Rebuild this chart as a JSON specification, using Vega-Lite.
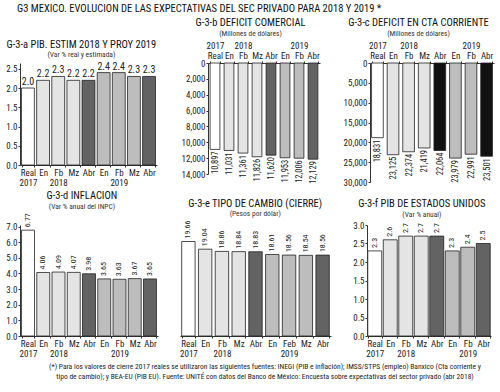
{
 "$schema": "https://vega.github.io/schema/vega-lite/v6.json",
 "padding": {"left": 5, "right": 2, "top": 3, "bottom": 2},
 "title": {"text": "G3  MEXICO. EVOLUCION DE LAS EXPECTATIVAS DEL SEC PRIVADO PARA 2018 Y 2019 *", "anchor": "start", "frame": "group", "fontSize": 10.5, "offset": 4, "dx": -3},
 "config": {
  "font": "Roboto Condensed",
  "view": {"stroke": null},
  "axis": {"labelFont": "Roboto Condensed", "labelFontSize": 9, "labelColor": "#222", "domainColor": "#333", "tickColor": "#333", "grid": false, "title": null, "tickSize": 2, "labelPadding": 1, "labelLineHeight": 10},
  "title": {"font": "Roboto Condensed", "fontSize": 10.5, "fontWeight": "normal", "color": "#111", "subtitleFont": "Roboto Condensed", "subtitleFontSize": 7.5, "subtitleColor": "#333", "anchor": "middle", "frame": "bounds", "offset": 3, "subtitlePadding": 1},
  "bar": {"stroke": "#222", "strokeWidth": 0.8},
  "text": {"font": "Roboto Condensed", "color": "#222"}
 },
 "spacing": 4,
 "vconcat": [
  {"spacing": 23, "hconcat": [
   {
    "width": 137, "height": 102,
    "title": {"text": "G-3-a  PIB. ESTIM 2018 Y PROY 2019", "subtitle": "(Var % real y estimada)"},
    "data": {"values": [
     {"k": "Real 2017", "g": "real", "v": 2.0},
     {"k": "En 2018", "g": "m18", "v": 2.2},
     {"k": "Fb 2018", "g": "m18", "v": 2.3},
     {"k": "Mz 2018", "g": "m18", "v": 2.2},
     {"k": "Abr 2018", "g": "abr", "v": 2.2},
     {"k": "En 2019", "g": "m19", "v": 2.4},
     {"k": "Fb 2019", "g": "m19", "v": 2.4},
     {"k": "Mz 2019", "g": "m19", "v": 2.3},
     {"k": "Abr 2019", "g": "abr", "v": 2.3}
    ]},
    "encoding": {
     "x": {"field": "k", "type": "nominal", "sort": null, "scale": {"paddingInner": 0.15, "paddingOuter": 0.1}, "axis": {"labelAngle": 0, "tickBand": "extent", "labelExpr": "datum.value ? (indexof(['Real','Fb','Feb'], split(datum.value,' ')[0]) >= 0 ? [split(datum.value,' ')[0], split(datum.value,' ')[1]] : split(datum.value,' ')[0]) : ''"}},
     "y": {"field": "v", "type": "quantitative", "scale": {"domain": [0, 2.65]}, "axis": {"values": [0, 0.5, 1, 1.5, 2, 2.5], "format": ".1f"}}
    },
    "layer": [
     {"mark": {"type": "bar"}, "encoding": {
      "fill": {"field": "g", "type": "nominal", "legend": null, "scale": {"domain": ["real", "m18", "m19", "abr", "abrN"], "range": ["#ffffff", "#e4e4e4", "#bdbdbd", "#636363", "#111111"]}}}},
     {"mark": {"type": "text", "baseline": "bottom", "dy": -1, "fontSize": 10}, "encoding": {
      "text": {"field": "v", "type": "quantitative", "format": ".1f"}}}
    ]
   },
   {
    "width": 112, "height": 111,
    "title": {"text": "G-3-b  DEFICIT COMERCIAL", "subtitle": "(Millones de dólares)", "offset": 13},
    "data": {"values": [
     {"k": "Real 2017", "g": "real", "v": 10897},
     {"k": "En 2018", "g": "m18", "v": 11031},
     {"k": "Fb 2018", "g": "m18", "v": 11361},
     {"k": "Mz 2018", "g": "m18", "v": 11826},
     {"k": "Abr 2018", "g": "abr", "v": 11620},
     {"k": "En 2019", "g": "m19", "v": 11953},
     {"k": "Fb 2019", "g": "m19", "v": 12006},
     {"k": "Abr 2019", "g": "abr", "v": 12129}
    ]},
    "encoding": {
     "x": {"field": "k", "type": "nominal", "sort": null, "scale": {"paddingInner": 0.3, "paddingOuter": 0.15}, "axis": {"orient": "top", "labelAngle": 0, "labelBaseline": "bottom", "labelLineHeight": -10, "tickBand": "extent", "labelExpr": "datum.value ? (indexof(['Real','Fb','Feb'], split(datum.value,' ')[0]) >= 0 ? [split(datum.value,' ')[0], split(datum.value,' ')[1]] : split(datum.value,' ')[0]) : ''"}},
     "y": {"field": "v", "type": "quantitative", "scale": {"domain": [0, 14000], "reverse": true}, "axis": {"values": [0, 2000, 4000, 6000, 8000, 10000, 12000, 14000], "format": ",.0f"}}
    },
    "layer": [
     {"mark": {"type": "bar"}, "encoding": {
      "fill": {"field": "g", "type": "nominal", "legend": null, "scale": {"domain": ["real", "m18", "m19", "abr", "abrN"], "range": ["#ffffff", "#e4e4e4", "#bdbdbd", "#636363", "#111111"]}}}},
     {"mark": {"type": "text", "angle": 270, "align": "right", "baseline": "middle", "dx": -2, "fontSize": 8.5}, "encoding": {
      "text": {"field": "v", "type": "quantitative", "format": ","}}}
    ]
   },
   {
    "width": 124, "height": 119,
    "title": {"text": "G-3-c  DEFICIT EN CTA CORRIENTE", "subtitle": "(Millones de dólares)", "offset": 13},
    "data": {"values": [
     {"k": "Real 2017", "g": "real", "v": 18831},
     {"k": "En 2018", "g": "m18", "v": 23125},
     {"k": "Fb 2018", "g": "m18", "v": 22374},
     {"k": "Mz 2018", "g": "m18", "v": 21419},
     {"k": "Abr 2018", "g": "abrN", "v": 22064},
     {"k": "En 2019", "g": "m19", "v": 23979},
     {"k": "Fb 2019", "g": "m19", "v": 22991},
     {"k": "Abr 2019", "g": "abrN", "v": 23501}
    ]},
    "encoding": {
     "x": {"field": "k", "type": "nominal", "sort": null, "scale": {"paddingInner": 0.25, "paddingOuter": 0.1}, "axis": {"orient": "top", "labelAngle": 0, "labelBaseline": "bottom", "labelLineHeight": -10, "tickBand": "extent", "labelExpr": "datum.value ? (indexof(['Real','Fb','Feb'], split(datum.value,' ')[0]) >= 0 ? [split(datum.value,' ')[0], split(datum.value,' ')[1]] : split(datum.value,' ')[0]) : ''"}},
     "y": {"field": "v", "type": "quantitative", "scale": {"domain": [0, 30000], "reverse": true}, "axis": {"values": [0, 5000, 10000, 15000, 20000, 25000, 30000], "format": ",.0f"}}
    },
    "layer": [
     {"mark": {"type": "bar"}, "encoding": {
      "fill": {"field": "g", "type": "nominal", "legend": null, "scale": {"domain": ["real", "m18", "m19", "abr", "abrN"], "range": ["#ffffff", "#e4e4e4", "#bdbdbd", "#636363", "#111111"]}}}},
     {"mark": {"type": "text", "angle": 270, "align": "right", "baseline": "middle", "dx": -2, "fontSize": 8.5}, "encoding": {
      "text": {"field": "v", "type": "quantitative", "format": ","}}}
    ]
   }
  ]},
  {"spacing": 21, "hconcat": [
   {
    "width": 138, "height": 111,
    "title": {"text": "G-3-d  INFLACION", "subtitle": "(Var % anual del INPC)"},
    "data": {"values": [
     {"k": "Real 2017", "g": "real", "v": 6.77},
     {"k": "En 2018", "g": "m18", "v": 4.06},
     {"k": "Fb 2018", "g": "m18", "v": 4.09},
     {"k": "Mz 2018", "g": "m18", "v": 4.07},
     {"k": "Abr 2018", "g": "abr", "v": 3.98},
     {"k": "En 2019", "g": "m19", "v": 3.65},
     {"k": "Fb 2019", "g": "m19", "v": 3.63},
     {"k": "Mz 2019", "g": "m19", "v": 3.67},
     {"k": "Abr 2019", "g": "abr", "v": 3.65}
    ]},
    "encoding": {
     "x": {"field": "k", "type": "nominal", "sort": null, "scale": {"paddingInner": 0.15, "paddingOuter": 0.1}, "axis": {"labelAngle": 0, "tickBand": "extent", "labelExpr": "datum.value ? (indexof(['Real','Fb','Feb'], split(datum.value,' ')[0]) >= 0 ? [split(datum.value,' ')[0], split(datum.value,' ')[1]] : split(datum.value,' ')[0]) : ''"}},
     "y": {"field": "v", "type": "quantitative", "scale": {"domain": [0, 7.1]}, "axis": {"values": [0, 1, 2, 3, 4, 5, 6, 7], "format": ".1f"}}
    },
    "layer": [
     {"mark": {"type": "bar"}, "encoding": {
      "fill": {"field": "g", "type": "nominal", "legend": null, "scale": {"domain": ["real", "m18", "m19", "abr", "abrN"], "range": ["#ffffff", "#e4e4e4", "#bdbdbd", "#636363", "#111111"]}}}},
     {"mark": {"type": "text", "angle": 270, "align": "left", "baseline": "middle", "dx": 3, "fontSize": 8}, "encoding": {
      "text": {"field": "v", "type": "quantitative", "format": ".2f"}}}
    ]
   },
   {
    "width": 151, "height": 111,
    "title": {"text": "G-3-e  TIPO DE CAMBIO (CIERRE)", "subtitle": "(Pesos por dólar)"},
    "data": {"values": [
     {"k": "Real 2017", "g": "real", "v": 19.66},
     {"k": "En 2018", "g": "m18", "v": 19.04},
     {"k": "Fb 2018", "g": "m18", "v": 18.86},
     {"k": "Mz 2018", "g": "m18", "v": 18.84},
     {"k": "Abr 2018", "g": "abr", "v": 18.83},
     {"k": "En 2019", "g": "m19", "v": 18.61},
     {"k": "Feb 2019", "g": "m19", "v": 18.56},
     {"k": "Mz 2019", "g": "m19", "v": 18.54},
     {"k": "Abr 2019", "g": "abr", "v": 18.56}
    ]},
    "encoding": {
     "x": {"field": "k", "type": "nominal", "sort": null, "scale": {"paddingInner": 0.2, "paddingOuter": 0.1}, "axis": {"labelAngle": 0, "tickBand": "extent", "labelExpr": "datum.value ? (indexof(['Real','Fb','Feb'], split(datum.value,' ')[0]) >= 0 ? [split(datum.value,' ')[0], split(datum.value,' ')[1]] : split(datum.value,' ')[0]) : ''"}},
     "y": {"field": "v", "type": "quantitative", "scale": {"domain": [12, 21]}, "axis": null}
    },
    "layer": [
     {"mark": {"type": "bar"}, "encoding": {
      "y2": {"datum": 12},
      "fill": {"field": "g", "type": "nominal", "legend": null, "scale": {"domain": ["real", "m18", "m19", "abr", "abrN"], "range": ["#ffffff", "#e4e4e4", "#bdbdbd", "#636363", "#111111"]}}}},
     {"mark": {"type": "text", "angle": 270, "align": "left", "baseline": "middle", "dx": 3, "fontSize": 8}, "encoding": {
      "text": {"field": "v", "type": "quantitative", "format": ".2f"}}}
    ]
   },
   {
    "width": 124, "height": 111,
    "title": {"text": "G-3-f  PIB DE ESTADOS UNIDOS", "subtitle": "(Var % anual)"},
    "data": {"values": [
     {"k": "Real 2017", "g": "real", "v": 2.3},
     {"k": "En 2018", "g": "m18", "v": 2.6},
     {"k": "Fb 2018", "g": "m18", "v": 2.7},
     {"k": "Mz 2018", "g": "m18", "v": 2.7},
     {"k": "Abr 2018", "g": "abr", "v": 2.7},
     {"k": "En 2019", "g": "m19", "v": 2.3},
     {"k": "Fb 2019", "g": "m19", "v": 2.4},
     {"k": "Abr 2019", "g": "abr", "v": 2.5}
    ]},
    "encoding": {
     "x": {"field": "k", "type": "nominal", "sort": null, "scale": {"paddingInner": 0.1, "paddingOuter": 0.05}, "axis": {"labelAngle": 0, "tickBand": "extent", "labelExpr": "datum.value ? (indexof(['Real','Fb','Feb'], split(datum.value,' ')[0]) >= 0 ? [split(datum.value,' ')[0], split(datum.value,' ')[1]] : split(datum.value,' ')[0]) : ''"}},
     "y": {"field": "v", "type": "quantitative", "scale": {"domain": [0, 3.0]}, "axis": {"values": [0, 0.5, 1, 1.5, 2, 2.5, 3], "format": ".1f"}}
    },
    "layer": [
     {"mark": {"type": "bar"}, "encoding": {
      "fill": {"field": "g", "type": "nominal", "legend": null, "scale": {"domain": ["real", "m18", "m19", "abr", "abrN"], "range": ["#ffffff", "#e4e4e4", "#bdbdbd", "#636363", "#111111"]}}}},
     {"mark": {"type": "text", "angle": 270, "align": "left", "baseline": "middle", "dx": 3, "fontSize": 8}, "encoding": {
      "text": {"field": "v", "type": "quantitative", "format": ".1f"}}}
    ]
   }
  ]},
  {
   "width": 490, "height": 20,
   "data": {"values": [
    {"linea": 1, "texto": "(*) Para los valores de cierre 2017 reales se utilizaron las siguientes fuentes: INEGI (PIB e inflación); IMSS/STPS (empleo) Banxico (Cta corriente y"},
    {"linea": 2, "texto": "tipo de cambio); y BEA-EU (PIB EU).        Fuente: UNITÉ con datos del Banco de México: Encuesta sobre expectativas del sector privado (abr 2018)"}
   ]},
   "mark": {"type": "text", "align": "center", "baseline": "middle", "fontSize": 7.5},
   "encoding": {
    "y": {"field": "linea", "type": "ordinal", "axis": null},
    "text": {"field": "texto", "type": "nominal"}
   }
  }
 ]
}
